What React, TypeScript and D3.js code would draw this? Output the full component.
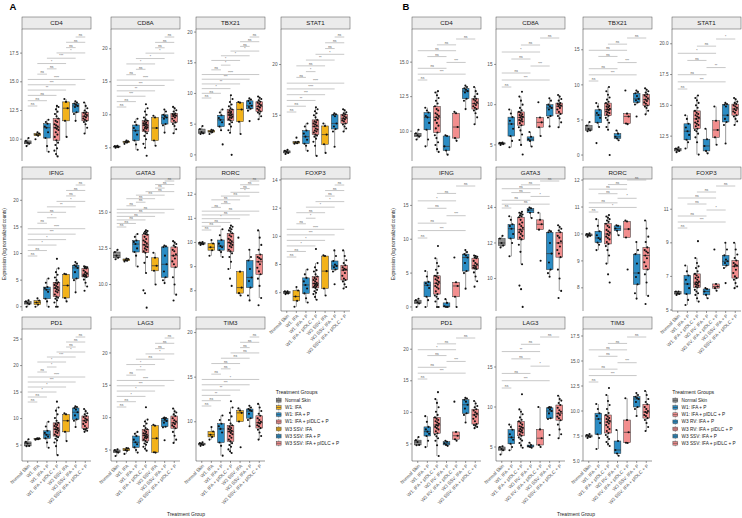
import React from "react";
import * as d3 from "d3";

// ---------- categories ----------
const GROUPS_A = ["Normal Skin", "W1: IFA", "W1: IFA + P", "W1: IFA + pIDLC + P", "W3 SSV: IFA", "W3 SSV: IFA + P", "W3 SSV: IFA + pIDLC + P"];
const GROUPS_B = ["Normal Skin", "W1: IFA + P", "W1: IFA + pIDLC + P", "W3 RV: IFA + P", "W3 RV: IFA + pIDLC + P", "W3 SSV: IFA + P", "W3 SSV: IFA + pIDLC + P"];
// data group order: NS, W1 IFA, W1 IFA+P, W1 pIDLC, SSV IFA, SSV IFA+P, SSV pIDLC, RV IFA+P, RV pIDLC
const IDX_A = [0, 1, 2, 3, 4, 5, 6];
const IDX_B = [0, 2, 3, 7, 8, 5, 6];
const GROUP_COLORS = ["#8c8c8c", "#f2b21b", "#2b8cc4", "#f28e8e", "#f2b21b", "#2b8cc4", "#f28e8e", "#2b8cc4", "#f28e8e"];
const GENES = ["CD4", "CD8A", "TBX21", "STAT1", "IFNG", "GATA3", "RORC", "FOXP3", "PD1", "LAG3", "TIM3"];

// ---------- values (log normalized counts) ----------
const CD4 = [
  [9.4, 9.6, 9.7, 9.85, 10.1],
  [10.0, 10.3, 10.4, 10.5, 10.6],
  [8.9, 9.4, 10.1, 10.6, 11.0, 11.1, 11.35, 11.5, 11.7],
  [8.5, 8.7, 9.0, 9.2, 9.5, 9.7, 9.9, 10.2, 10.4, 10.6, 10.8, 10.9, 11.0, 11.1, 11.2, 11.3, 11.5, 11.6, 11.8, 12.0, 12.2, 12.4, 12.6, 12.8, 12.9],
  [10.2, 11.6, 12.7, 13.25, 13.5],
  [11.6, 12.2, 12.35, 12.8, 12.9, 13.0, 13.1, 13.2, 13.3],
  [10.5, 11.0, 11.3, 11.5, 11.6, 11.7, 11.8, 11.9, 12.0, 12.1, 12.2, 12.3, 12.35, 12.5, 12.7, 12.9, 13.2],
  [8.3, 8.6, 8.9, 9.65, 9.7],
  [9.3, 9.5, 10.3, 11.3, 11.4],
];
const CD8A = [
  [5.0, 5.1, 5.2, 5.25, 5.3],
  [5.6, 5.8, 5.9, 6.0, 6.1],
  [4.7, 5.5, 6.1, 7.0, 7.6, 8.0, 8.45, 8.9, 9.4],
  [3.8, 5.0, 5.6, 6.3, 6.8, 7.2, 7.45, 7.7, 7.9, 8.0, 8.1, 8.2, 8.4, 8.5, 8.6, 8.7, 8.8, 9.0, 9.1, 9.3, 9.6, 10.0, 10.5, 11.0, 11.6],
  [5.3, 6.1, 8.0, 9.6, 9.85],
  [7.3, 8.4, 8.6, 9.4, 9.6, 9.8, 10.0, 10.5, 10.8],
  [7.2, 7.8, 8.3, 8.6, 8.85, 9.1, 9.4, 9.6, 9.8, 9.9, 10.0, 10.1, 10.2, 10.5, 10.7, 11.0, 11.2],
  [4.8, 5.5, 5.7, 6.0, 6.6],
  [6.1, 7.2, 7.8, 8.4, 10.3],
];
const TBX21 = [
  [3.4, 3.5, 3.7, 4.2, 4.7],
  [3.4, 3.7, 3.8, 4.0, 4.1],
  [1.7, 4.0, 4.6, 5.3, 5.7, 6.0, 6.45, 6.9, 7.4],
  [0.0, 3.6, 4.0, 4.6, 5.0, 5.3, 5.6, 5.8, 6.0, 6.1, 6.2, 6.4, 6.5, 6.6, 6.8, 6.9, 7.0, 7.2, 7.4, 7.6, 7.9, 8.2, 8.6, 9.1, 9.7],
  [3.4, 5.4, 7.4, 8.5, 8.6],
  [5.5, 7.2, 7.5, 7.8, 8.0, 8.4, 8.8, 9.0, 9.2],
  [5.8, 6.3, 6.7, 6.9, 7.05, 7.3, 7.5, 7.7, 7.9, 8.1, 8.3, 8.5, 8.65, 8.9, 9.1, 9.3, 9.5],
  [2.1, 2.35, 2.6, 3.05, 3.5],
  [4.4, 4.5, 5.5, 5.9, 9.2],
];
const STAT1 = [
  [11.2, 11.3, 11.4, 11.5, 11.6],
  [12.2, 12.25, 12.35, 12.4, 12.8],
  [11.5, 12.0, 12.2, 12.6, 12.9, 13.2, 13.5, 13.9, 14.2],
  [11.0, 12.0, 12.4, 12.7, 12.9, 13.0, 13.1, 13.3, 13.4, 13.5, 13.6, 13.7, 13.9, 14.0, 14.1, 14.2, 14.3, 14.4, 14.55, 14.8, 15.0, 15.2, 15.4, 15.6, 15.8],
  [11.3, 12.15, 13.1, 13.95, 14.2],
  [11.9, 13.4, 13.65, 13.9, 14.2, 14.9, 15.05, 15.1, 15.2],
  [13.4, 13.7, 13.9, 14.1, 14.2, 14.4, 14.5, 14.6, 14.7, 14.8, 14.9, 15.0, 15.1, 15.2, 15.3, 15.5, 15.6],
  [11.1, 11.3, 11.7, 12.25, 13.1],
  [11.8, 12.4, 13.0, 13.75, 14.9],
];
const IFNG = [
  [0.0, 0.5, 0.7, 1.0, 1.2],
  [0.0, 0.4, 0.8, 1.15, 1.6],
  [0.0, 1.0, 1.5, 2.8, 3.2, 3.5, 3.7, 4.5, 5.3],
  [0.0, 0.0, 0.8, 1.2, 1.5, 1.7, 1.9, 2.3, 2.7, 2.9, 3.1, 3.3, 3.5, 3.7, 3.9, 4.1, 4.3, 4.5, 4.6, 5.0, 5.5, 6.0, 6.5, 7.2, 9.0],
  [1.0, 1.65, 4.0, 6.1, 6.2],
  [2.7, 5.0, 5.3, 6.5, 7.3, 7.6, 7.8, 8.1, 8.4],
  [3.0, 3.8, 4.5, 5.1, 5.6, 5.7, 5.8, 5.9, 6.1, 6.3, 6.5, 6.8, 7.2, 7.3, 7.4, 7.5, 7.6],
  [0.0, 0.0, 0.1, 0.6, 1.15],
  [0.0, 1.5, 3.1, 3.65, 7.3],
];
const GATA3 = [
  [11.75, 11.85, 12.0, 12.25, 12.4],
  [11.6, 11.65, 11.7, 11.77, 11.8],
  [11.25, 12.0, 12.25, 12.5, 12.8, 12.95, 13.05, 13.3, 13.5],
  [8.4, 9.4, 9.6, 10.8, 11.5, 11.9, 12.2, 12.3, 12.4, 12.5, 12.6, 12.65, 12.75, 12.85, 12.95, 13.05, 13.15, 13.3, 13.45, 13.5, 13.55, 13.6, 13.65, 13.7, 13.75],
  [10.0, 10.95, 11.3, 11.85, 12.2],
  [10.1, 10.3, 10.5, 10.9, 11.4, 12.0, 12.6, 12.65, 12.7],
  [8.9, 9.3, 10.0, 10.5, 11.2, 11.4, 11.6, 11.8, 12.0, 12.1, 12.3, 12.4, 12.6, 12.7, 12.8, 12.9, 13.0],
  [13.4, 13.7, 13.85, 13.95, 14.0],
  [11.0, 12.75, 13.05, 13.3, 13.7],
];
const RORC = [
  [9.9, 9.93, 9.96, 10.0, 10.02],
  [9.45, 9.68, 9.8, 9.96, 10.1],
  [9.4, 9.6, 9.68, 9.8, 9.85, 9.95, 10.1, 10.3, 10.55],
  [8.2, 8.5, 8.9, 9.2, 9.4, 9.55, 9.63, 9.7, 9.8, 9.85, 9.9, 9.95, 10.0, 10.05, 10.1, 10.15, 10.25, 10.3, 10.38, 10.45, 10.5, 10.55, 10.6, 10.65, 10.7],
  [7.8, 7.9, 8.13, 8.79, 10.2],
  [7.6, 7.8, 8.13, 8.4, 8.55, 8.9, 9.25, 9.4, 9.7],
  [7.4, 7.7, 8.2, 8.5, 8.68, 8.8, 8.95, 9.1, 9.2, 9.3, 9.35, 9.4, 9.5, 9.7, 9.9, 10.2, 10.5],
  [9.95, 10.12, 10.2, 10.3, 10.32],
  [8.68, 9.87, 10.18, 10.46, 10.5],
];
const FOXP3 = [
  [5.9, 5.95, 6.0, 6.1, 6.1],
  [5.0, 5.42, 5.73, 6.15, 6.4],
  [5.3, 5.6, 5.95, 6.3, 6.55, 6.8, 7.05, 7.3, 7.65],
  [5.5, 5.7, 5.9, 6.0, 6.1, 6.2, 6.34, 6.4, 6.45, 6.5, 6.55, 6.6, 6.65, 6.7, 6.8, 6.9, 6.95, 7.05, 7.15, 7.3, 7.5, 7.6, 7.8, 8.1, 9.1],
  [5.8, 6.3, 7.53, 8.6, 8.65],
  [6.6, 7.5, 7.65, 7.8, 7.9, 8.0, 8.25, 8.6, 9.0],
  [6.3, 6.4, 6.6, 6.8, 6.9, 7.0, 7.2, 7.4, 7.6, 7.65, 7.7, 7.8, 7.95, 8.1, 8.3, 8.6, 9.0],
  [5.7, 5.9, 6.1, 6.25, 6.3],
  [6.15, 6.3, 6.4, 6.55, 8.6],
];
const PD1 = [
  [4.8, 4.85, 5.3, 5.6, 6.1],
  [6.0, 6.1, 6.2, 6.26, 6.3],
  [4.5, 5.5, 6.26, 6.6, 6.95, 7.3, 7.7, 8.5, 9.4],
  [3.1, 4.8, 5.5, 5.9, 6.2, 6.5, 6.7, 7.0, 7.3, 7.5, 7.7, 7.9, 8.0, 8.2, 8.4, 8.6, 8.8, 9.0, 9.2, 9.6, 10.1, 10.8, 11.5, 12.1, 13.2],
  [5.75, 7.5, 9.6, 10.8, 11.0],
  [8.4, 9.6, 9.85, 10.6, 11.2, 11.7, 12.0, 12.2, 12.3],
  [7.5, 7.7, 7.9, 8.0, 8.15, 8.6, 9.0, 9.3, 9.6, 9.8, 10.0, 10.3, 10.5, 10.8, 11.0, 11.4, 11.8],
  [4.7, 4.85, 5.1, 5.35, 5.5],
  [5.5, 5.75, 6.3, 6.9, 11.7],
];
const LAG3 = [
  [4.07, 4.6, 4.75, 5.0, 5.1],
  [4.4, 4.9, 5.0, 5.26, 5.3],
  [4.6, 5.0, 5.4, 5.9, 6.2, 6.6, 7.16, 7.5, 7.8],
  [4.9, 5.2, 5.5, 5.8, 6.0, 6.2, 6.4, 6.6, 6.8, 6.9, 7.0, 7.1, 7.25, 7.4, 7.5, 7.6, 7.8, 8.0, 8.2, 8.4, 8.7, 9.1, 9.4, 9.7, 11.6],
  [4.6, 4.65, 6.8, 8.75, 8.9],
  [6.5, 8.5, 8.6, 9.2, 9.5, 9.7, 9.9, 9.95, 10.0],
  [6.1, 6.6, 7.2, 7.8, 8.35, 8.6, 8.8, 9.0, 9.2, 9.4, 9.6, 9.9, 10.25, 10.5, 10.8, 11.0, 11.4],
  [4.9, 5.0, 5.1, 5.25, 5.54],
  [5.0, 5.25, 6.1, 7.2, 10.0],
];
const TIM3 = [
  [7.3, 7.4, 7.5, 7.6, 7.7],
  [8.0, 8.3, 8.55, 8.9, 9.4],
  [6.2, 7.3, 7.67, 8.8, 9.2, 9.5, 9.78, 10.2, 10.7],
  [6.5, 6.7, 6.9, 7.2, 7.4, 7.6, 7.8, 8.0, 8.2, 8.4, 8.6, 8.75, 8.9, 9.0, 9.1, 9.2, 9.3, 9.45, 9.6, 9.8, 10.2, 10.6, 11.0, 11.6, 12.3],
  [7.15, 10.03, 11.0, 11.25, 11.5],
  [9.5, 10.2, 10.4, 10.9, 11.2, 11.3, 11.43, 11.6, 11.8],
  [8.0, 8.4, 8.8, 9.1, 9.29, 9.5, 9.6, 9.8, 9.9, 10.0, 10.2, 10.4, 10.67, 10.9, 11.2, 11.6, 12.0],
  [5.53, 5.75, 6.1, 7.0, 8.1],
  [6.8, 6.83, 7.87, 9.1, 11.27],
];
const GENE_DATA = [CD4, CD8A, TBX21, STAT1, IFNG, GATA3, RORC, FOXP3, PD1, LAG3, TIM3];

// ---------- axes ----------
const DOMAIN_A = [[8.1, 19.6], [3.0, 23.0], [-1.0, 20.5], [10.5, 23.5], [-0.8, 24.0], [8.17, 17.3], [7.16, 12.63], [4.7, 14.07], [2.0, 26.9], [3.3, 23.7], [5.6, 20.4]];
const TICKS_A = [[10, 12.5, 15, 17.5], [5, 10, 15, 20], [0, 5, 10, 15, 20], [15, 20], [0, 5, 10, 15, 20], [10, 12.5, 15], [8, 9, 10, 11, 12], [6, 8, 10, 12, 14], [5, 10, 15, 20, 25], [5, 10, 15, 20], [10, 15, 20]];
const DOMAIN_B = [[7.84, 17.4], [3.0, 19.4], [-0.85, 17.96], [10.48, 21.2], [-0.6, 18.9], [8.17, 15.6], [7.14, 12.04], [4.94, 12.8], [2.3, 23.2], [3.25, 19.75], [5.0, 18.2]];
const TICKS_B = [[10, 12.5, 15], [5, 10, 15], [0, 5, 10, 15], [12.5, 15, 17.5, 20], [0, 5, 10, 15], [10, 12, 14], [8, 9, 10, 11, 12], [5, 7, 9, 11], [5, 10, 15, 20], [5, 10, 15], [5, 7.5, 10, 12.5, 15, 17.5]];

// ---------- significance comparisons ----------
const COMP_A = [[0, 1], [0, 2], [0, 3], [0, 4], [0, 5], [0, 6], [1, 2], [2, 3], [1, 4], [2, 5], [3, 6], [4, 5], [4, 6], [5, 6]];
const COMP_B = [[0, 1], [0, 5], [0, 3], [3, 5], [1, 3], [0, 4], [2, 4], [4, 6]];
const SIG_A = [
  "ns ns ns ** *** **** ns ns * *** * ns ns ns",
  "ns ns *** ** *** **** ns ns * * * ns ns ns",
  "ns ns * ** *** **** ns * * * * ns ns ns",
  "ns ns ** *** **** **** ns * ns ** * ns ns ns",
  "ns ns * * *** **** ns * ns ** * ns ns ns",
  "ns ns ns ns ns ns ns ns ns ns ns ns ns ns",
  "ns ns ns * ns ns ns ns ns ns * ns ns ns",
  "ns ns * * *** **** ns * ns * * ns ns ns",
  "ns ns * * *** **** ns * * *** * ns ns ns",
  "ns ns * * *** **** ns * * ns * ns ns ns",
  "ns ns ** ** *** * ns ns ns ns ns ns ns ns",
];
const SIG_B = [
  "ns *** ns *** ns ns ns ns",
  "ns *** ns *** ns * ns ns",
  "ns *** ns *** ns ns ns ns",
  "ns *** ns ** ns * ns *",
  "ns *** ns *** ns * ns ns",
  "ns ns ns * ns ns ns ns",
  "ns * ns * ns ns ns ns",
  "ns *** ns * ns ns ns ns",
  "ns *** ns *** ns * ns ns",
  "ns *** ns * ns ** ns ns",
  "ns *** ns *** ns ns ns ns",
];

// ---------- layout ----------
const FONT = "'Liberation Sans', Arial, Helvetica, sans-serif";
const PW = 69;
const PH = 132;
const STRIP_H = 12;
const COL_A = [22, 111, 196, 281];
const COL_B = [412, 496, 583, 672];
const ROW_Y = [29, 179, 329];
const BR_A = [[8, 77], [8, 78], [8, 69], [8, 83], [6, 77], [2, 48], [2, 51], [6, 78], [8, 73], [9, 78], [8, 77]];
const BR_B = [[10, 51], [9, 58], [9, 52], [10, 60], [7, 59], [2, 29], [1, 33], [7, 49], [9, 50], [8, 59], [8, 53]];

function boxStats(vals: number[]) {
  const s = [...vals].sort(d3.ascending);
  const q1 = d3.quantile(s, 0.25) as number;
  const med = d3.quantile(s, 0.5) as number;
  const q3 = d3.quantile(s, 0.75) as number;
  const iqr = q3 - q1;
  const lo = d3.min(s.filter((v) => v >= q1 - 1.5 * iqr)) as number;
  const hi = d3.max(s.filter((v) => v <= q3 + 1.5 * iqr)) as number;
  return { q1, med, q3, lo, hi };
}

type FacetProps = {
  gene: string;
  groups: number[][];
  colors: string[];
  names: string[];
  x0: number;
  y0: number;
  domain: number[];
  ticks: number[];
  comps: number[][];
  sig: string[];
  br: number[];
  showX: boolean;
};

function Facet(p: FacetProps) {
  const xs = d3.scalePoint<number>().domain(d3.range(7)).range([p.x0, p.x0 + PW]).padding(0.6);
  const ys = d3.scaleLinear().domain(p.domain).range([p.y0 + PH, p.y0]);
  const step = xs.step();
  const bw = step * 0.7;
  const dec = p.ticks.some((t) => !Number.isInteger(t)) ? 1 : 0;
  const bstep = (p.br[1] - p.br[0]) / (p.comps.length - 1);
  const yb = p.y0 + PH;
  return (
    <g>
      <rect x={p.x0} y={p.y0 - STRIP_H} width={PW} height={STRIP_H} fill="#ebebeb" stroke="#4d4d4d" strokeWidth={0.5} />
      <text x={p.x0 + PW / 2} y={p.y0 - STRIP_H / 2} dy="0.35em" textAnchor="middle" fontSize={6.2} fill="#1a1a1a">{p.gene}</text>
      <line x1={p.x0} x2={p.x0} y1={p.y0} y2={yb} stroke="#333" strokeWidth={0.5} />
      {p.ticks.map((t) => (
        <g key={t}>
          <line x1={p.x0 - 2} x2={p.x0} y1={ys(t)} y2={ys(t)} stroke="#333" strokeWidth={0.5} />
          <text x={p.x0 - 3.5} y={ys(t)} dy="0.35em" textAnchor="end" fontSize={4.7} fill="#4d4d4d">{t.toFixed(dec)}</text>
        </g>
      ))}
      {p.comps.map((c, k) => {
        const y = p.y0 + p.br[1] - k * bstep;
        const xa = xs(c[0]) as number;
        const xb = xs(c[1]) as number;
        return (
          <g key={"b" + k}>
            <line x1={xa} x2={xb} y1={y} y2={y} stroke="#9a9a9a" strokeWidth={0.55} />
            <text x={(xa + xb) / 2} y={y - 0.8} textAnchor="middle" fontSize={3.3} fill="#555">{p.sig[k]}</text>
          </g>
        );
      })}
      {p.groups.map((vals, g) => {
        const st = boxStats(vals);
        const cx = xs(g) as number;
        return (
          <g key={"g" + g}>
            <line x1={cx} x2={cx} y1={ys(st.hi)} y2={ys(st.q3)} stroke="#333" strokeWidth={0.5} />
            <line x1={cx} x2={cx} y1={ys(st.q1)} y2={ys(st.lo)} stroke="#333" strokeWidth={0.5} />
            <rect x={cx - bw / 2} y={ys(st.q3)} width={bw} height={Math.max(0.6, ys(st.q1) - ys(st.q3))} fill={p.colors[g]} stroke="#333" strokeWidth={0.5} />
            <line x1={cx - bw / 2} x2={cx + bw / 2} y1={ys(st.med)} y2={ys(st.med)} stroke="#333" strokeWidth={0.7} />
          </g>
        );
      })}
      {p.groups.map((vals, g) => {
        const cx = xs(g) as number;
        return vals.map((v, i) => {
          const off = ((((i + g * 3) * 0.618034 + 0.21) % 1) - 0.5) * 2 * 0.22 * step;
          return <circle key={"p" + g + "_" + i} cx={cx + off} cy={ys(v)} r={1.05} fill="#111" />;
        });
      })}
      {p.showX && (
        <g>
          <line x1={p.x0} x2={p.x0 + PW} y1={yb} y2={yb} stroke="#333" strokeWidth={0.5} />
          {p.names.map((n, g) => {
            const cx = xs(g) as number;
            return (
              <g key={"x" + g}>
                <line x1={cx} x2={cx} y1={yb} y2={yb + 2} stroke="#333" strokeWidth={0.5} />
                <text transform={`translate(${cx + 1.5},${yb + 4}) rotate(-45)`} textAnchor="end" dy="0.35em" fontSize={4.7} fill="#4d4d4d">{n}</text>
              </g>
            );
          })}
        </g>
      )}
    </g>
  );
}

function Legend({ x, y, names, colors }: { x: number; y: number; names: string[]; colors: string[] }) {
  return (
    <g>
      <text x={x} y={y} dy="0.35em" fontSize={5.2} fill="#1a1a1a">Treatment Groups</text>
      {names.map((n, i) => {
        const cy = y + 8 + i * 7.17;
        return (
          <g key={n}>
            <rect x={x} y={cy - 3} width={6} height={6} fill="#f2f2f2" />
            <line x1={x + 3} x2={x + 3} y1={cy - 3} y2={cy + 3} stroke="#333" strokeWidth={0.4} />
            <rect x={x + 0.6} y={cy - 1.8} width={4.8} height={3.6} fill={colors[i]} stroke="#333" strokeWidth={0.4} />
            <line x1={x + 0.6} x2={x + 5.4} y1={cy} y2={cy} stroke="#333" strokeWidth={0.5} />
            <text x={x + 9.3} y={cy} dy="0.35em" fontSize={4.7} fill="#1a1a1a">{n}</text>
          </g>
        );
      })}
    </g>
  );
}

function PanelSet({ idx, names, cols, domains, ticks, comps, sigs, brs, label, lx, legendX, yTitleX, xTitleX }: any) {
  const colors = idx.map((i: number) => GROUP_COLORS[i]);
  return (
    <g>
      <text x={lx} y={9.5} fontSize={9.5} fontWeight="bold" fill="#000">{label}</text>
      {GENES.map((gene, gi) => {
        const col = gi % 4;
        const row = Math.floor(gi / 4);
        const showX = row === 2 || (row === 1 && col === 3);
        return (
          <Facet
            key={gene}
            gene={gene}
            groups={idx.map((i: number) => GENE_DATA[gi][i])}
            colors={colors}
            names={names}
            x0={cols[col]}
            y0={ROW_Y[row]}
            domain={domains[gi]}
            ticks={ticks[gi]}
            comps={comps}
            sig={sigs[gi].split(" ")}
            br={brs[gi]}
            showX={showX}
          />
        );
      })}
      <Legend x={legendX} y={392.3} names={names} colors={colors} />
      <text transform={`translate(${yTitleX},244) rotate(-90)`} textAnchor="middle" fontSize={4.6} fill="#1a1a1a">Expression (log normalized counts)</text>
      <text x={xTitleX} y={515.5} textAnchor="middle" fontSize={5} fill="#1a1a1a">Treatment Group</text>
    </g>
  );
}

export default function App() {
  return (
    <svg width={742} height={518} style={{ position: "absolute", left: 0, top: 0, background: "#fff" }} fontFamily={FONT}>
      <rect width={742} height={518} fill="#fff" />
      <PanelSet idx={IDX_A} names={GROUPS_A} cols={COL_A} domains={DOMAIN_A} ticks={TICKS_A} comps={COMP_A} sigs={SIG_A} brs={BR_A} label="A" lx={9.5} legendX={275.7} yTitleX={6} xTitleX={186} />
      <PanelSet idx={IDX_B} names={GROUPS_B} cols={COL_B} domains={DOMAIN_B} ticks={TICKS_B} comps={COMP_B} sigs={SIG_B} brs={BR_B} label="B" lx={402.5} legendX={672.3} yTitleX={395} xTitleX={576} />
    </svg>
  );
}
